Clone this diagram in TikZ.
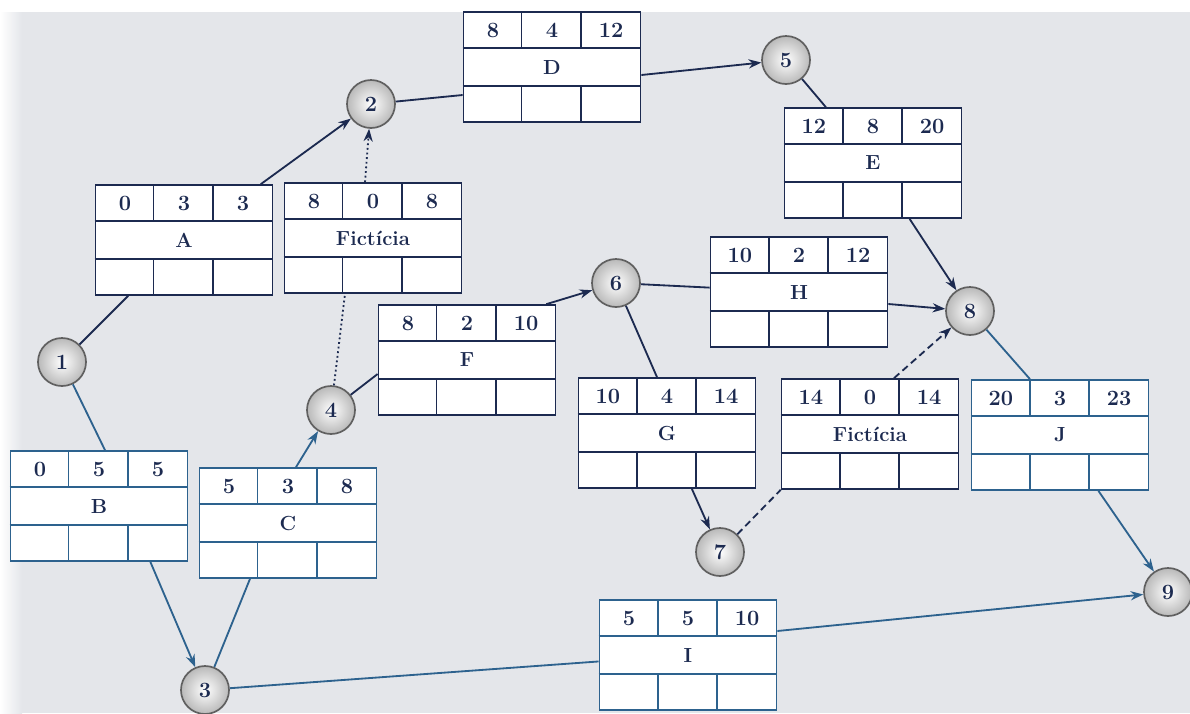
\documentclass[tikz,border=0pt]{standalone}
\usepackage{tikz}
\usetikzlibrary{arrows,arrows.meta,positioning,calc}

\definecolor{ink}{RGB}{28,42,80}
\definecolor{steel}{RGB}{45,98,142}
\definecolor{paper}{RGB}{228,230,234}

% activity box: [colour]{name}{position}{ES}{duration}{EF}{label}
\newcommand{\activity}[7][ink]{%
	\node[act,draw=#1] (#2) at (#3) {};
	\draw[#1,line width=1.2pt] ([yshift=-0.917cm]#2.north west) -- ([yshift=-0.917cm]#2.north east)
		([yshift=0.917cm]#2.south west) -- ([yshift=0.917cm]#2.south east)
		([xshift=1.475cm]#2.north west) -- ++(0,-0.917cm)
		([xshift=2.95cm]#2.north west) -- ++(0,-0.917cm)
		([xshift=1.475cm]#2.south west) -- ++(0,0.917cm)
		([xshift=2.95cm]#2.south west) -- ++(0,0.917cm);
	\node[txt] at ([xshift=-1.475cm,yshift=0.917cm]#2.center) {#4};
	\node[txt] at ([yshift=0.917cm]#2.center) {#5};
	\node[txt] at ([xshift=1.475cm,yshift=0.917cm]#2.center) {#6};
	\node[lbl] at (#2.center) {#7};
}

\begin{document}
\begin{tikzpicture}[x=0.025cm,y=-0.025cm,>={Stealth[length=9pt,width=6.5pt]},line width=1.3pt]
	\tikzstyle{act}=[rectangle,fill=white,line width=1.2pt,
	minimum width=4.425cm,minimum height=2.75cm,inner sep=0pt
	]
	\tikzstyle{txt}=[text=ink,font=\fontsize{15.5}{17}\selectfont\bfseries];
	\tikzstyle{lbl}=[text=ink,font=\fontsize{14.5}{16}\selectfont\bfseries];
	\tikzstyle{event}=[circle,shade,inner color=white,outer color=gray!55,
	draw=gray!75!black,line width=1.2pt,minimum size=1.2cm,inner sep=0pt,
	text=ink,font=\fontsize{15.5}{17}\selectfont\bfseries];
	\tikzstyle{dum}=[dash pattern=on 5pt off 3pt];

\useasboundingbox (0,0) rectangle (1190,713);
\fill[white] (0,0) rectangle (1190,713);
\fill[paper] (14,12) rectangle (1190,713);
\shade[left color=white,right color=paper] (0,12) rectangle (22,713);

\activity{D}{552,67}{8}{4}{12}{D}
\activity{A}{184,240}{0}{3}{3}{A}
\activity{fic1}{373,238}{8}{0}{8}{Fictícia}
\activity{E}{873,163}{12}{8}{20}{E}
\activity{H}{799,292}{10}{2}{12}{H}
\activity{F}{467,360}{8}{2}{10}{F}
\activity{G}{667,433}{10}{4}{14}{G}
\activity{fic2}{870,434}{14}{0}{14}{Fictícia}
\activity[steel]{J}{1060,435}{20}{3}{23}{J}
\activity[steel]{B}{99,506}{0}{5}{5}{B}
\activity[steel]{C}{288,523}{5}{3}{8}{C}
\activity[steel]{I}{688,655}{5}{5}{10}{I}

\node[event](e1) at (62,362){1};
\node[event](e2) at (371,104){2};
\node[event](e3) at (205,690){3};
\node[event](e4) at (331,410){4};
\node[event](e5) at (786,60){5};
\node[event](e6) at (616,283){6};
\node[event](e7) at (720,552){7};
\node[event](e8) at (970,311){8};
\node[event](e9) at (1168,592){9};

% upper branch
\draw [ink] (e1) -- (A);
\draw [->,ink] (A) -- (e2);
\draw [->,ink,dotted] ([xshift=-0.2cm]fic1.north) -- (e2);
\draw [ink,dotted] (e4) -- ([xshift=-0.7cm]fic1.south);
\draw [ink] (e2) -- ([yshift=-0.7cm]D.west);
\draw [->,ink] ([yshift=-0.2cm]D.east) -- (e5);
\draw [ink] (e5) -- (E);
\draw [->,ink] (E) -- (e8);

% middle
\draw [ink] (e4) -- ([yshift=-0.35cm]F.west);
\draw [->,ink] ([xshift=-0.25cm]F.north east) -- (e6);
\draw [ink] (e6) -- (H);
\draw [->,ink] ([yshift=-0.3cm]H.east) -- (e8);
\draw [ink] (e6) -- ([xshift=-0.25cm]G.north);
\draw [->,ink] (G) -- (e7);
\draw [ink,dum] (e7) -- (fic2.south west);
\draw [->,ink,dum] ([xshift=0.6cm]fic2.north) -- (e8);
\draw [steel] (e8) -- ([xshift=-0.75cm]J.north);
\draw [->,steel] (J) -- (e9);

% lower branch
\draw [steel] (e1) -- ([xshift=0.15cm]B.north);
\draw [->,steel] ([xshift=-0.95cm]B.south east) -- (e3);
\draw [steel] (e3) -- ([xshift=-0.95cm]C.south);
\draw [->,steel] ([xshift=0.2cm]C.north) -- (e4);
\draw [steel] (e3) -- (I);
\draw [->,steel] ([yshift=0.6cm]I.east) -- (e9);

\end{tikzpicture}
\end{document}
